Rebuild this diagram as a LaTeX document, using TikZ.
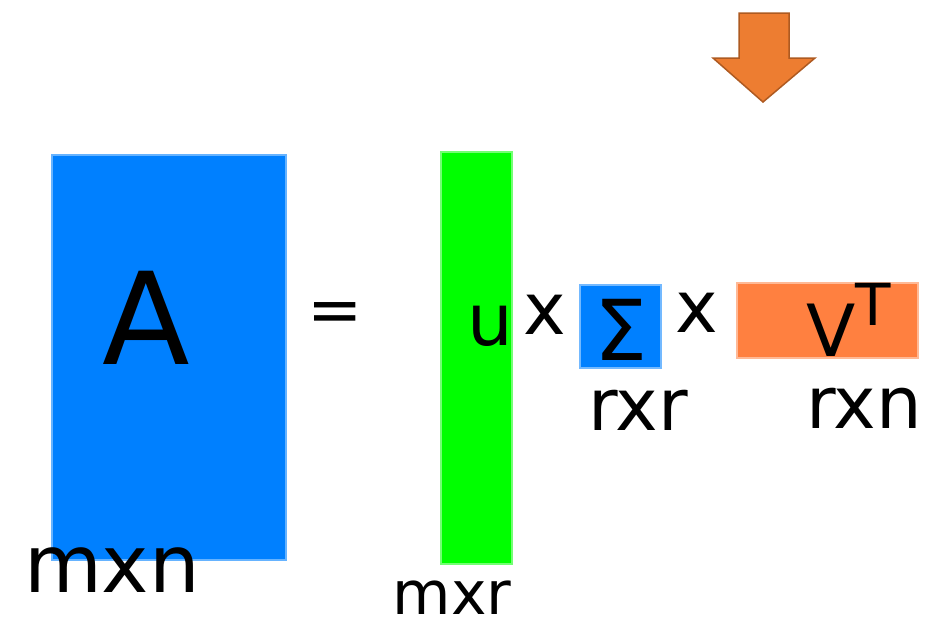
\documentclass[tikz,border=0pt]{standalone}
\usepackage{fontspec}
\setmainfont{DejaVu Sans}
\usetikzlibrary{positioning}
\definecolor{matblue}{RGB}{0,128,255}
\definecolor{matgreen}{RGB}{0,255,0}
\definecolor{matorange}{RGB}{255,128,64}
\definecolor{arrfill}{RGB}{237,125,49}
\definecolor{arrline}{RGB}{174,90,33}

\begin{document}
\begin{tikzpicture}[
      x=1pt, y=-1pt,
      mat/.style={rectangle, inner sep=0pt, line width=1.5pt},
      hand/.style={font=\fontsize{72}{72}\selectfont, inner sep=0pt},
      dim/.style={hand, anchor=base},
      big/.style={font=\fontsize{128}{128}\selectfont, inner sep=0pt},
    ]
    \useasboundingbox (0,0) rectangle (933,627);

    % ── Matrices ────────────────────────────────────────────
    \node[mat, fill=matblue, draw=matblue!60!white,
          minimum width=234pt, minimum height=405pt] (Amat) at (169,357.5) {};
    \node[mat, fill=matgreen, draw=matgreen!55!white,
          minimum width=71pt, minimum height=412pt] (Umat) at (476.5,358) {};
    \node[mat, fill=matblue, draw=matblue!55!white,
          minimum width=81pt, minimum height=83pt] (Smat) at (620.5,326.5) {};
    \node[mat, fill=matorange, draw=matorange!55!white,
          minimum width=181pt, minimum height=75pt] (Vmat) at (827.5,320.5) {};

    % ── Symbols ─────────────────────────────────────────────
    \node[big] (Atxt) at (146,318) {A};
    \node[hand, font=\fontsize{66}{66}\selectfont] (eq) at (335,318) {=};
    \node[hand] (Utxt) at (490,326) {u};
    \node[hand] (times1) at (545,315) {x};
    \node[hand, font=\fontsize{84}{84}\selectfont] (Stxt) at (621,330) {Σ};
    \node[hand] (times2) at (697,313) {x};
    \node[dim, anchor=base west] (Vtxt) at (806,356)
      {V\raisebox{0.42em}{\fontsize{58}{58}\selectfont T}};

    % ── Dimensions ──────────────────────────────────────────
    \node[dim, font=\fontsize{80}{80}\selectfont] (Adim) at (112,592) {mxn};
    \node[dim, font=\fontsize{60}{60}\selectfont] (Udim) at (452,614) {mxr};
    \node[dim] (Sdim) at (638,430) {rxr};
    \node[dim] (Vdim) at (864,428) {rxn};

    % ── Arrow ───────────────────────────────────────────────
    \draw[fill=arrfill, draw=arrline, line width=1.5pt, line join=miter]
      (739,13) -- (789,13) -- (789,58) -- (815,58) -- (763,102)
      -- (713,58) -- (739,58) -- cycle;
  \end{tikzpicture}
\end{document}
